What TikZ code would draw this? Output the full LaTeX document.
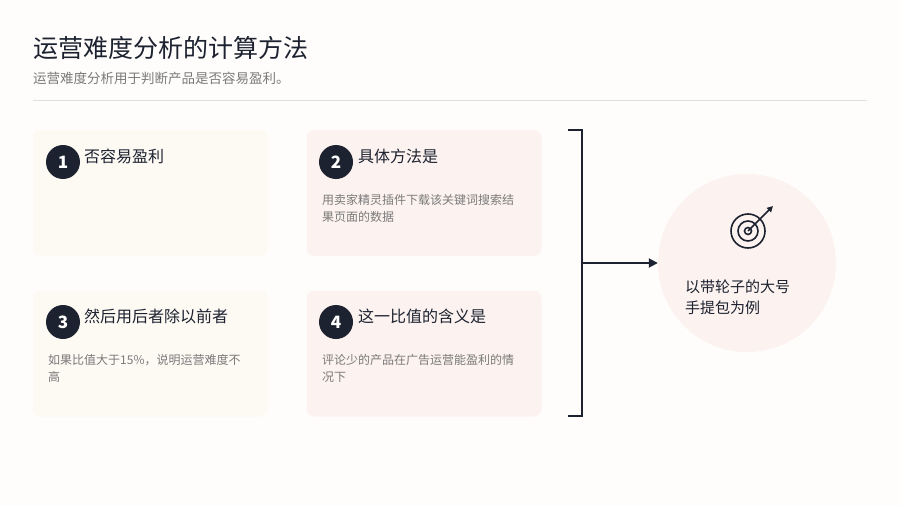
\documentclass[tikz,border=0pt]{standalone}
\usepackage{fontspec}
\setmainfont{Noto Sans CJK SC}
\usetikzlibrary{arrows.meta,positioning}
\definecolor{ink}{HTML}{1C2230}
\definecolor{paper}{HTML}{FFFDFB}
\definecolor{cardA}{HTML}{FDF9F3}
\definecolor{cardB}{HTML}{FCF2EF}
\definecolor{descgray}{HTML}{7A7A7A}
\tikzset{
  card/.style={rounded corners=8pt, minimum width=235pt, minimum height=126pt, inner sep=0pt},
  badge/.style={circle, fill=ink, minimum size=34pt, inner sep=0pt, text=white, font=\fontsize{17}{17}\selectfont\bfseries},
  headline/.style={anchor=west, inner sep=0pt, text=ink, font=\fontsize{16}{18}\selectfont},
  desc/.style={anchor=north west, inner sep=0pt, text=descgray, align=left, font=\fontsize{12}{17}\selectfont},
}
\begin{document}
\begin{tikzpicture}[x=1pt,y=-1pt]
  \fill[paper] (0,0) rectangle (900,506);
  \useasboundingbox (0,0) rectangle (900,506);
  \node[anchor=west, inner sep=0pt, text=ink, font=\fontsize{25}{28}\selectfont] (title) at (33,48) {运营难度分析的计算方法};
  \node[anchor=west, inner sep=0pt, text=descgray, font=\fontsize{13.5}{16}\selectfont] (subtitle) at (33,78) {运营难度分析用于判断产品是否容易盈利。};
  \draw[gray!25] (33,100) -- (867,100);
  % cards
  \node[card, fill=cardA] (c1) at (150.5,193) {};
  \node[card, fill=cardB] (c2) at (424,193) {};
  \node[card, fill=cardA] (c3) at (150.5,353.5) {};
  \node[card, fill=cardB] (c4) at (424,353.5) {};
  \node[badge] (b1) at (63,162) {1};
  \node[badge] (b2) at (336,162) {2};
  \node[badge] (b3) at (63,322) {3};
  \node[badge] (b4) at (336,322) {4};
  \node[headline] (h1) at (84,156) {否容易盈利};
  \node[headline] (h2) at (358,156) {具体方法是};
  \node[headline] (h3) at (84,316) {然后用后者除以前者};
  \node[headline] (h4) at (358,316) {这一比值的含义是};
  \node[desc] (d2) at (322,194) {用卖家精灵插件下载该关键词搜索结\\果页面的数据};
  \node[desc] (d3) at (48,354) {如果比值大于15\%，说明运营难度不\\高};
  \node[desc] (d4) at (322,354) {评论少的产品在广告运营能盈利的情\\况下};
  % bracket and result
  \draw[ink, line width=1.8pt] (568,130) -- (582,130) -- (582,416) -- (568,416);
  \coordinate (fork) at (582,263);
  \node[circle, fill=cardB, minimum size=178pt, inner sep=0pt] (res) at (747,263) {};
  \draw[ink, line width=1.8pt, -{Triangle[length=9pt,width=9pt]}] (fork) -- (res.west);
  \draw[ink, line width=1.6pt] (748,231) circle (17) (748,231) circle (10) (748,231) circle (3.5);
  \draw[ink, line width=1.6pt, -{Triangle[length=6pt,width=6pt]}] (748,231) -- (773,206);
  \node[anchor=north west, inner sep=0pt, text=ink, align=left, font=\fontsize{15}{21}\selectfont] (rtext) at (685,280) {以带轮子的大号\\手提包为例};
\end{tikzpicture}
\end{document}
